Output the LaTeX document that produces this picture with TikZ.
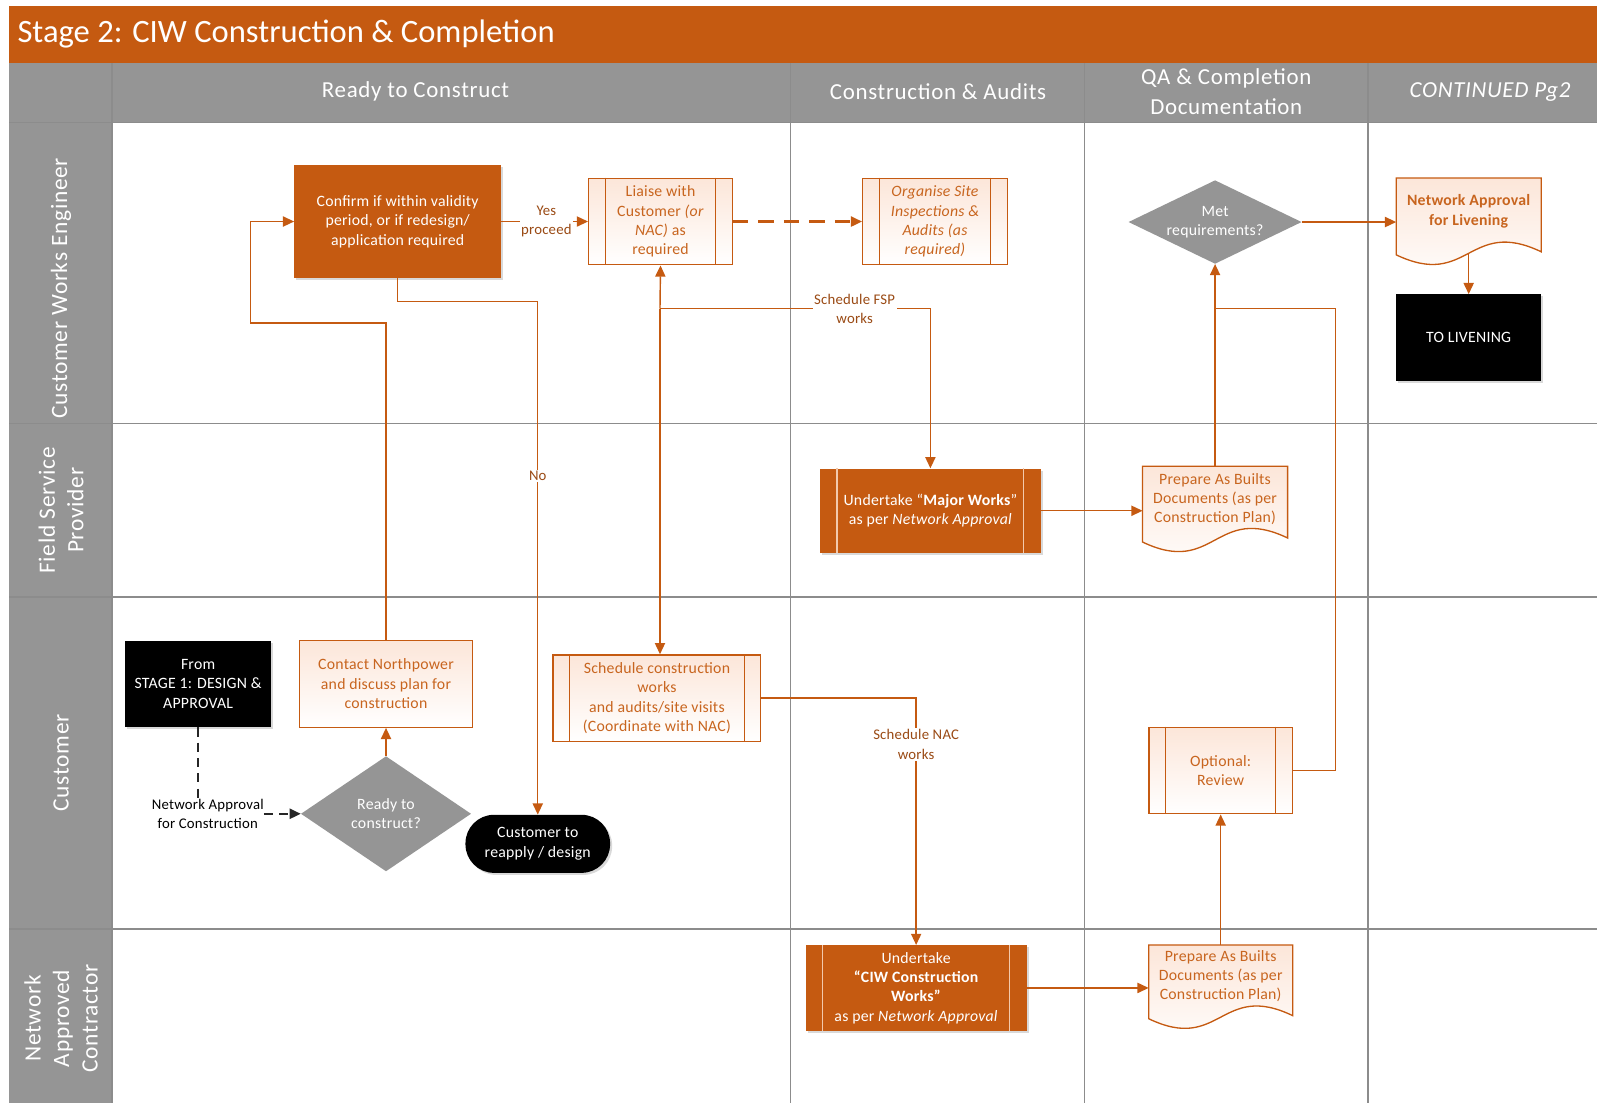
\documentclass[tikz,border=0pt]{standalone}
\usepackage{fontspec}
\setmainfont{Carlito}
\usetikzlibrary{arrows.meta,shapes.geometric,shadows,calc}
\definecolor{brand}{HTML}{C55A11}
\definecolor{brandtext}{HTML}{C8651F}
\definecolor{labeltext}{HTML}{9A4A14}
\definecolor{lanegray}{HTML}{959595}
\definecolor{gridline}{HTML}{8C8C8C}
\definecolor{softfill}{HTML}{FCE6D9}
\definecolor{barlight}{HTML}{F3C9AC}
\pgfdeclarelayer{grid}
\pgfdeclarelayer{shapes}
\pgfsetlayers{grid,shapes,main}

% inner side bars of a predefined-process box
\newcommand\subbars[2]{%
  \draw[#2, line width=1.2pt]
    ([xshift=17pt]#1.north west) -- ([xshift=17pt]#1.south west)
    ([xshift=-17pt]#1.north east) -- ([xshift=-17pt]#1.south east);}

% outline of a document shape (wavy bottom) around a text node
\newcommand\docoutline[3]{%
  \begin{pgfonlayer}{shapes}
  \path[docshape] (#1.north west) -- (#1.north east) -- ($(#1.south east)+(0,#3)$)
    .. controls ($(#1.south)+(0,#3-34)$) and ($(#1.south)+(0,#2+34)$) ..
    ($(#1.south west)+(0,#2)$) -- cycle;
  \end{pgfonlayer}}

\begin{document}
\begin{tikzpicture}[x=1pt,y=-1pt,
  every node/.style={inner sep=0pt, align=center},
  boxfont/.style={font=\fontsize{15.5}{19}\selectfont\addfontfeatures{LetterSpace=1.5}},
  lightbox/.style={boxfont, rectangle, draw=brand, line width=1.3pt,
    top color=softfill, bottom color=white, text=brandtext},
  solidbox/.style={boxfont, rectangle, fill=brand, text=white,
    drop shadow={shadow xshift=2pt, shadow yshift=-2pt, opacity=0.3}},
  blackbox/.style={boxfont, rectangle, fill=black, text=white,
    drop shadow={shadow xshift=2pt, shadow yshift=-2pt, opacity=0.3}},
  doctext/.style={boxfont, rectangle, text=brandtext},
  docshape/.style={draw=brand, line width=1.3pt, top color=softfill, bottom color=white},
  decision/.style={diamond, fill=lanegray},
  dtext/.style={boxfont, text=white, align=center},
  flow/.style={draw=brand, line width=1.4pt, -{Triangle[length=11pt,width=10pt]}},
  link/.style={draw=brand, line width=1.4pt},
  elabel/.style={font=\fontsize{14.5}{19}\selectfont\addfontfeatures{LetterSpace=1.5},
    text=labeltext, fill=white, inner sep=1.5pt},
  dashblack/.style={draw=black!85, line width=2pt, dash pattern=on 9pt off 6pt},
  hdr/.style={font=\fontsize{22.5}{30}\selectfont\addfontfeatures{LetterSpace=3}, text=white},
  lanelbl/.style={font=\fontsize{23}{28}\selectfont\addfontfeatures{LetterSpace=3},
    text=white, rotate=90},
  gridrule/.style={draw=gridline, line width=1.3pt}
]
\useasboundingbox (0,0) rectangle (1568,1083);

% ---------- frame, header strip and swimlanes ----------
\begin{pgfonlayer}{grid}
  \fill[brand] (9,6) rectangle (1568,62);
  \fill[lanegray] (9,62) rectangle (1568,120);
  \fill[lanegray] (9,120) rectangle (110,1083);
  \draw[gridrule] (9,120) -- (1568,120);
  \draw[gridrule] (9,416) -- (1568,416);
  \draw[gridrule] (9,586) -- (1568,586);
  \draw[gridrule] (9,912) -- (1568,912);
  \draw[gridrule] (110,62) -- (110,1083);
  \draw[gridrule] (776,62) -- (776,1083);
  \draw[gridrule] (1065,62) -- (1065,1083);
  \draw[gridrule] (1343,62) -- (1343,1083);
\end{pgfonlayer}

\node[anchor=west, text=white, font=\fontsize{32}{38}\selectfont] (title) at (17,33)
  {Stage 2: CIW Construction \& Completion};

\node[hdr] (colA) at (408,90) {Ready to Construct};
\node[hdr] (colB) at (921,90) {Construction \& Audits};
\node[hdr] (colC) at (1204,90) {QA \& Completion\\Documentation};
\node[hdr] (colD) at (1463,90) {\itshape CONTINUED Pg2};

\node[lanelbl] (laneA) at (60,283) {Customer Works Engineer};
\node[lanelbl] (laneB) at (60,501) {Field Service\\Provider};
\node[lanelbl] (laneC) at (60,749) {Customer};
\node[lanelbl] (laneD) at (60,1000) {Network\\Approved\\Contractor};

% ---------- process steps ----------
\node[solidbox, minimum width=203pt, minimum height=111pt] (confirm) at (390.5,217.5)
  {Confirm if within validity\\period, or if redesign/\\application required};

\node[lightbox, minimum width=141pt, minimum height=85pt] (liaise) at (648.5,217.5)
  {Liaise with\\Customer \textit{(or}\\\textit{NAC)} as\\required};
\subbars{liaise}{brand}

\node[lightbox, minimum width=142pt, minimum height=85pt] (organise) at (918,217.5)
  {\itshape Organise Site\\\itshape Inspections \&\\\itshape Audits (as\\\itshape required)};
\subbars{organise}{brand}

\node[decision, minimum width=170pt, minimum height=82pt,
  label={[dtext]center:Met\\requirements?}] (met) at (1193,218) {};

\node[doctext, minimum width=142pt, minimum height=65pt] (netappliv) at (1442,207.5)
  {\bfseries Network Approval\\\bfseries for Livening};
\docoutline{netappliv}{10}{7}

\node[blackbox, minimum width=142pt, minimum height=85pt] (toliv) at (1442,331.5) {TO LIVENING};

\node[solidbox, minimum width=217pt, minimum height=83pt] (major) at (913.5,501.5)
  {Undertake “\textbf{Major Works}”\\as per \textit{Network Approval}};
\subbars{major}{barlight}

\node[doctext, minimum width=142pt, minimum height=64pt] (asbA) at (1193,490)
  {Prepare As Builts\\Documents (as per\\Construction Plan)};
\docoutline{asbA}{10}{6}

\node[blackbox, minimum width=143pt, minimum height=85pt] (from) at (194.5,671.5)
  {From\\STAGE 1: DESIGN \&\\APPROVAL};

\node[lightbox, minimum width=170pt, minimum height=85pt] (contact) at (379,671.5)
  {Contact Northpower\\and discuss plan for\\construction};

\node[lightbox, minimum width=204pt, minimum height=85pt] (sched) at (645,685.5)
  {Schedule construction\\works\\and audits/site visits\\(Coordinate with NAC)};
\subbars{sched}{brand}

\node[decision, minimum width=167pt, minimum height=113pt,
  label={[dtext]center:Ready to\\construct?}] (ready) at (379,799) {};

\node[boxfont, fill=black, text=white, rounded corners=28pt, minimum width=142pt,
  minimum height=57pt, drop shadow={shadow xshift=2pt, shadow yshift=-2pt, opacity=0.3}]
  (reapply) at (528,828.5) {Customer to\\reapply / design};

\node[font=\fontsize{14.5}{19}\selectfont\addfontfeatures{LetterSpace=1.5}, text=black]
  (naclbl) at (204,799) {Network Approval\\for Construction};

\node[lightbox, minimum width=141pt, minimum height=85pt] (optional) at (1198.5,756.5)
  {Optional:\\Review};
\subbars{optional}{brand}

\node[solidbox, minimum width=217pt, minimum height=84pt] (ciw) at (899.5,970)
  {Undertake\\\textbf{“CIW Construction}\\\textbf{Works”}\\as per \textit{Network Approval}};
\subbars{ciw}{barlight}

\node[doctext, minimum width=141pt, minimum height=61pt] (asbB) at (1198.5,958.5)
  {Prepare As Builts\\Documents (as per\\Construction Plan)};
\docoutline{asbB}{11}{8}

% ---------- junctions ----------
\coordinate (loopL) at (246,317);
\coordinate (fspjoin) at (648,303);
\coordinate (revjoin) at (1193,303);
\coordinate (revturn) at (1311,303);

% ---------- connectors ----------
\draw[flow] (confirm.east) -- node[elabel, pos=0.52] {Yes\\proceed} (liaise.west);
\draw[flow, line width=2.2pt, dash pattern=on 15pt off 10pt] (liaise.east) -- (organise.west);
\draw[flow] (met.east) -- (met.east -| netappliv.west);
\draw[flow] ($(netappliv.south)+(0,9)$) -- (toliv.north);

\draw[flow] (confirm.south) -- ++(0,23) -| node[elabel, pos=0.67] {No} (reapply.north);
\draw[flow] (ready.north) -- (contact.south);
\draw[flow] (contact.north) |- (loopL) |- (confirm.west);

\draw[dashblack] (from.south) -- (from.south |- naclbl.north);
\draw[dashblack, -{Triangle[length=11pt,width=10pt]}] (naclbl.east) -- (ready.west);

\draw[flow] (fspjoin) -- (liaise.south);
\draw[flow] (fspjoin) -- (fspjoin |- sched.north);
\draw[flow] (fspjoin) -| node[elabel, pos=0.36] {Schedule FSP\\works} (major.north);

\draw[flow] (sched.east) -| node[elabel, pos=0.594] {Schedule NAC\\works} (ciw.north);

\draw[flow] (major.east) -- (major.east -| asbA.west);
\draw[flow] (asbA.north) -- (met.south);
\draw[link] (optional.east) -| (revturn) -- (revjoin);

\draw[flow] (ciw.east) -- (ciw.east -| asbB.west);
\draw[flow] (asbB.north) -- (optional.south);
\end{tikzpicture}
\end{document}
